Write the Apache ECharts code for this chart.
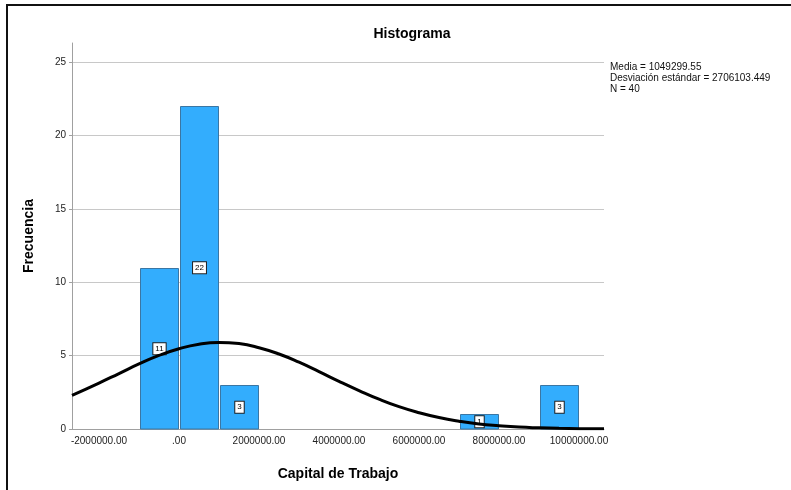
<!DOCTYPE html>
<html>
<head>
<meta charset="utf-8">
<script src="https://cdn.jsdelivr.net/npm/echarts@6/dist/echarts.min.js"></script>
<style>
html,body{margin:0;padding:0;background:#fff;}
#c{width:791px;height:490px;}
</style>
</head>
<body>
<div id="c"></div>
<script>
// Histogram bins (start, end) and frequencies
var binStarts = [-1000000, 0, 1000000, 7000000, 9000000];
var binEnds   = [0, 1000000, 2000000, 8000000, 10000000];
var counts    = [11, 22, 3, 1, 3];

// Normal curve points
var curveX = [-2675000, -2000000, -1500000, -1000000, -500000, 0, 500000, 1000000, 1500000, 2000000, 2500000, 3000000, 3500000, 4000000, 4500000, 5000000, 5500000, 6000000, 6500000, 7000000, 7500000, 8000000, 8500000, 9000000, 9500000, 10000000, 10625000];
var curveY = [2.29, 3.13, 3.78, 4.43, 5.01, 5.47, 5.78, 5.90, 5.82, 5.54, 5.11, 4.55, 3.91, 3.25, 2.62, 2.03, 1.52, 1.11, 0.78, 0.53, 0.34, 0.22, 0.13, 0.08, 0.045, 0.025, 0.011];

var xTicks = [-2000000, 0, 2000000, 4000000, 6000000, 8000000, 10000000];
var xTickLabels = ['-2000000.00', '.00', '2000000.00', '4000000.00', '6000000.00', '8000000.00', '10000000.00'];
var yTicks = [0, 5, 10, 15, 20, 25];

var statsLines = ['Media = 1049299.55', 'Desviación estándar = 2706103.449', 'N = 40'];

var histData = binStarts.map(function (s, i) { return [s, binEnds[i], counts[i]]; });
var curveData = curveX.map(function (x, i) { return [x, curveY[i]]; });

var chart = echarts.init(document.getElementById('c'), null, {renderer: 'canvas'});
var font = 'Arial, "Liberation Sans", Helvetica, sans-serif';

chart.setOption({
  animation: false,
  backgroundColor: '#ffffff',
  textStyle: {fontFamily: font},
  title: {
    text: 'Histograma',
    left: 407, top: 22,
    textAlign: 'center',
    textStyle: {fontSize: 14, fontWeight: 'bold', color: '#000', fontFamily: font}
  },
  grid: {left: 72, right: 187, top: 43, bottom: 61, containLabel: false},
  xAxis: {
    type: 'value',
    min: -2675000, max: 10625000,
    name: 'Capital de Trabajo',
    nameLocation: 'middle',
    nameGap: 38,
    nameTextStyle: {fontSize: 14, fontWeight: 'bold', color: '#000', fontFamily: font},
    axisLine: {show: true, onZero: false, lineStyle: {color: '#a0a0a0', width: 1}},
    axisTick: {show: false},
    splitLine: {show: false},
    axisLabel: {
      customValues: xTicks,
      fontSize: 10, color: '#222', margin: 7, fontFamily: font,
      formatter: function (v) {
        var i = xTicks.indexOf(v);
        return i >= 0 ? xTickLabels[i] : '';
      }
    }
  },
  yAxis: {
    type: 'value',
    min: 0, max: 26.3, interval: 5,
    name: 'Frecuencia',
    nameLocation: 'middle',
    nameGap: 36,
    nameTextStyle: {fontSize: 14, fontWeight: 'bold', color: '#000', fontFamily: font},
    axisLine: {show: true, onZero: false, lineStyle: {color: '#a0a0a0', width: 1}},
    axisTick: {show: true, length: 3, inside: false, lineStyle: {color: '#a0a0a0'}, customValues: yTicks},
    axisLabel: {customValues: yTicks, fontSize: 10, color: '#222', margin: 6, fontFamily: font},
    splitLine: {show: true, showMinLine: false, lineStyle: {color: '#c8c8c8', width: 1}}
  },
  graphic: [
    {type: 'rect', shape: {x: 7, y: 5, width: 800, height: 500}, style: {fill: 'none', stroke: '#111', lineWidth: 2}, z: 100},
    {type: 'text', left: 610, top: 62, style: {text: statsLines.join('\n'), fontSize: 10, lineHeight: 11, fill: '#111', fontFamily: font}}
  ],
  series: [
    {
      type: 'custom',
      data: histData,
      encode: {x: [0, 1], y: 2},
      z: 2,
      renderItem: function (params, api) {
        var s = api.value(0), e = api.value(1), c = api.value(2);
        var p0 = api.coord([s, c]);
        var p1 = api.coord([e, 0]);
        var x0 = Math.round(p0[0]) + 1.5, x1 = Math.round(p1[0]) - 0.5;
        var yt = Math.round(p0[1]) + 0.5, yb = Math.round(p1[1]);
        return {
          type: 'group',
          children: [
            {type: 'rect', shape: {x: x0, y: yt, width: x1 - x0, height: yb - yt},
             style: {fill: '#33adfd', stroke: '#3b76a3', lineWidth: 1}},
            {type: 'text', z2: 10,
             style: {text: String(c), x: (x0 + x1) / 2, y: (yt + yb) / 2,
                     align: 'center', verticalAlign: 'middle',
                     fontSize: 8, fill: '#000', fontFamily: font,
                     backgroundColor: '#fff', borderColor: '#222', borderWidth: 1,
                     padding: [2, 2, 1, 2]}}
          ]
        };
      }
    },
    {
      type: 'line',
      data: curveData,
      smooth: true,
      showSymbol: false,
      symbol: 'none',
      z: 5,
      lineStyle: {color: '#000', width: 3},
      silent: true
    }
  ]
});
</script>
</body>
</html>
